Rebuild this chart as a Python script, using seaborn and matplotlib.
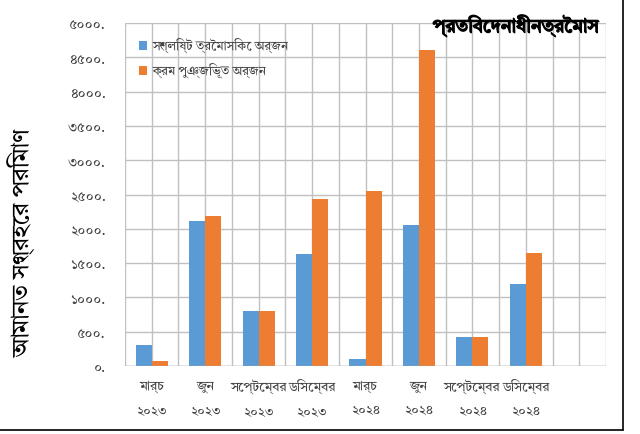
import matplotlib
matplotlib.use('Agg')
import matplotlib.pyplot as plt
import matplotlib.patheffects as pe
import seaborn as sns
import pandas as pd
import numpy as np
from matplotlib.patches import Patch
from matplotlib.lines import Line2D

# ---- data ----
categories = ["মার্চ\n২০২৩", "জুন\n২০২৩", "সেপ্টেম্বর\n২০২৩", "ডিসেম্বর\n২০২৩",
              "মার্চ\n২০২৪", "জুন\n২০২৪", "সেপ্টেম্বর\n২০২৪", "ডিসেম্বর\n২০২৪", " "]
quarterly = [300, 2110, 800, 1630, 100, 2060, 430, 1190]
cumulative = [80, 2190, 800, 2440, 2550, 4600, 430, 1640]
series_names = ["সংশ্লিষ্ট ত্রৈমাসিকে অর্জন", "ক্রম পুঞ্জিভূত অর্জন"]
y_ticks = [0, 500, 1000, 1500, 2000, 2500, 3000, 3500, 4000, 4500, 5000]
y_tick_labels = ["০.", "৫০০.", "১০০০.", "১৫০০.", "২০০০.", "২৫০০.", "৩০০০.",
                 "৩৫০০.", "৪০০০.", "৪৫০০.", "৫০০০."]
y_label = "আমানত সংগ্রহের পরিমাণ"
title = "প্রতিবেদনাধীনত্রৈমাস"
colors = ["#5B9BD5", "#ED7D31"]

sns.set_theme(style="white")
plt.rcParams['font.family'] = ["Tiro Bangla", "Noto Sans Bengali", "DejaVu Sans"]

n = len(quarterly)
df = pd.DataFrame({
    "cat": categories[:n] * 2,
    "val": quarterly + cumulative,
    "series": [series_names[0]] * n + [series_names[1]] * n,
})

fig = plt.figure(figsize=(6.4, 4.35), dpi=100)
ax = fig.add_axes([125 / 640, 1 - 367 / 435, 481 / 640, 343 / 435])
sns.barplot(data=df, x="cat", y="val", hue="series", order=categories,
            hue_order=series_names, palette=colors, width=0.6, gap=0,
            saturation=1, linewidth=0, ax=ax, legend=False, zorder=3)

ax.set_xlim(-0.5, len(categories) - 0.5)
ax.set_ylim(0, 5000)
ax.set_yticks(y_ticks)
ax.set_yticklabels(y_tick_labels, fontsize=10, color="#404040")
ax.set_xticks(range(len(categories)))
ax.set_xticklabels(categories, fontsize=9.5, color="#404040", linespacing=2.0)
ax.set_xticks(np.arange(-0.5, len(categories), 1), minor=True)
ax.tick_params(axis='both', which='both', length=0)
ax.tick_params(axis='x', pad=9)
ax.tick_params(axis='y', pad=14)
ax.grid(True, which='both', color="#c0c0c0", linewidth=1, zorder=0)
ax.set_axisbelow(True)
for s in ax.spines.values():
    s.set_visible(False)
ax.axhline(0, color="#a6a6a6", linewidth=1, zorder=4)
ax.set_xlabel("")
ax.set_ylabel(y_label, fontsize=17, color="black")
ax.yaxis.set_label_coords(-0.183, 0.36)

ax.text(0.985, 0.992, title, transform=ax.transAxes, ha="right", va="center",
        fontsize=13.5, color="black", zorder=5,
        path_effects=[pe.withStroke(linewidth=0.9, foreground="black")])

handles = [Patch(facecolor=c, edgecolor="none") for c in colors]
ax.legend(handles, series_names, loc="upper left", bbox_to_anchor=(0.005, 0.99),
          frameon=False, fontsize=9, handlelength=0.7, handleheight=0.7,
          handletextpad=0.4, labelspacing=0.8, labelcolor="#404040")

# outer frame (right and bottom)
fig.add_artist(Line2D([623 / 640, 623 / 640], [1 - 431 / 435, 1.0],
                      transform=fig.transFigure, color="black", linewidth=1.2))
fig.add_artist(Line2D([0, 623 / 640], [1 - 431 / 435, 1 - 431 / 435],
                      transform=fig.transFigure, color="black", linewidth=1.2))

fig.savefig("out.png", dpi=100)
